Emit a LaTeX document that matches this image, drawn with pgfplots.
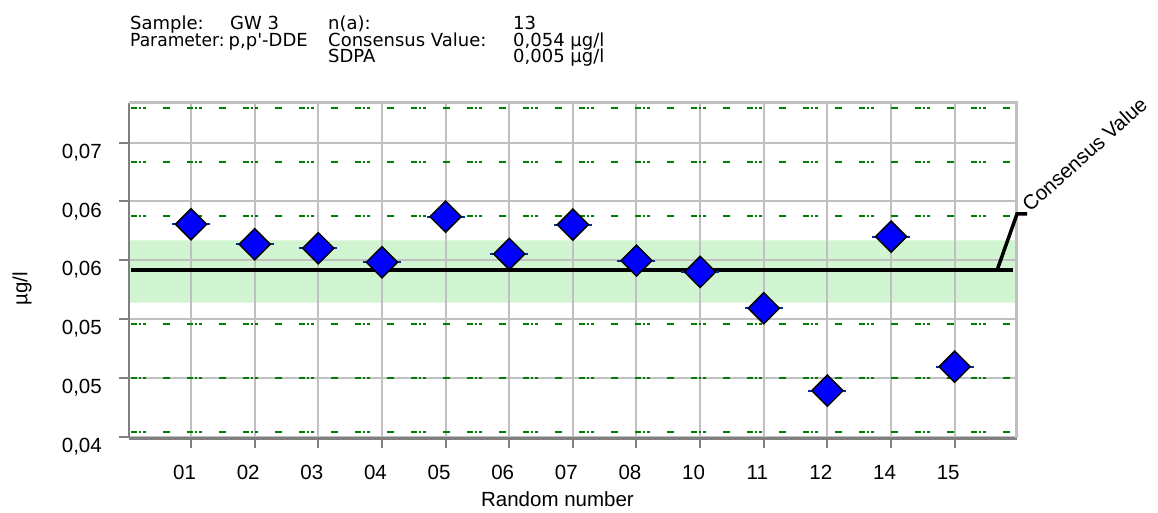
\documentclass[border=0pt]{standalone}
\usepackage{fontspec}
\setmainfont{Liberation Sans}
\newfontfamily\headfont{DejaVu Sans}[Ligatures=TeXOff]
\usepackage{pgfplots}
\pgfplotsset{compat=1.18}
\definecolor{gridgray}{RGB}{192,192,192}
\definecolor{axgray}{RGB}{128,128,128}
\definecolor{bandgreen}{RGB}{208,245,208}
\definecolor{lgreen}{RGB}{0,128,0}
\definecolor{pblue}{RGB}{0,0,255}
\definecolor{navy}{RGB}{0,51,153}
\pgfplotstableread{
x y
1 0.05806
2 0.05636
3 0.05602
4 0.05483
5 0.05871
6 0.05554
7 0.05803
8 0.05497
9 0.05401
10 0.05092
11 0.04391
12 0.05701
13 0.04595
}\results
\tikzset{gdash/.style={lgreen, line width=2pt, dash pattern=on 6pt off 2pt on 2pt off 2pt on 3pt off 16.7pt on 7.3pt off 17pt, dash phase=54pt}}
\newcommand\bigfnt{\fontsize{20.5pt}{24pt}\selectfont}
\newcommand\hd{\headfont\fontsize{18pt}{21pt}\selectfont}
\begin{document}
\begin{tikzpicture}
\node[anchor=base west, inner sep=0pt, font=\hd] at (130pt,482pt) {Sample:};
\node[anchor=base west, inner sep=0pt, font=\hd] at (230pt,482pt) {GW 3};
\node[anchor=base west, inner sep=0pt, font=\hd] at (328pt,482pt) {n(a):};
\node[anchor=base west, inner sep=0pt, font=\hd] at (513pt,482pt) {13};
\node[anchor=base west, inner sep=0pt, font=\hd] at (130pt,465.3pt) {\scalebox{0.95}[1]{Parameter:}};
\node[anchor=base west, inner sep=0pt, font=\hd] at (228.5pt,465.3pt) {p,p'-DDE};
\node[anchor=base west, inner sep=0pt, font=\hd] at (328pt,465.3pt) {Consensus Value:};
\node[anchor=base west, inner sep=0pt, font=\hd] at (513pt,465.3pt) {0,054 µg/l};
\node[anchor=base west, inner sep=0pt, font=\hd] at (328pt,449pt) {SDPA};
\node[anchor=base west, inner sep=0pt, font=\hd] at (513pt,449pt) {0,005 µg/l};
\begin{axis}[
  set layers,
  scale only axis,
  width=887.7pt, height=335.6pt,
  at={(129pt,73.7pt)}, anchor=south west,
  xmin=0.025, xmax=13.975,
  ymin=0.03986, ymax=0.0684,
  clip=false,
  axis lines=left,
  axis line style={-, axgray, line width=2.5pt},
  tick align=outside,
  major tick length=10pt,
  tick style={axgray, line width=2pt},
  grid=major,
  grid style={gridgray, line width=2pt},
  xtick={1,...,13},
  xticklabels={01,02,03,04,05,06,07,08,10,11,12,14,15},
  ytick={0.040,0.045,0.050,0.055,0.060,0.065},
  yticklabels={{0,04},{0,05},{0,05},{0,06},{0,06},{0,07}},
  scaled y ticks=false,
  tick label style={font=\bigfnt},
  yticklabel style={anchor=base east, inner sep=0pt, yshift=-15.6pt, xshift=-17pt},
  xticklabel style={anchor=base, inner sep=0pt, xshift=-6.5pt, yshift=-31pt},
  xlabel={Random number},
  ylabel={µg/l},
  label style={font=\bigfnt},
  xlabel style={at={(axis description cs:0.4827,-0.2038)}, anchor=base, inner sep=0pt},
  ylabel style={at={(axis description cs:-0.1205,0.445)}, anchor=center, inner sep=0pt},
]
\addplot[draw=none, fill=bandgreen, on layer=axis background] coordinates {(0.025,0.0514) (13.975,0.0514) (13.975,0.0567) (0.025,0.0567) (0.025,0.0514)};
\draw[gridgray, line width=2.5pt] (rel axis cs:0,1) -- (rel axis cs:1,1) -- (rel axis cs:1,0);
\addplot[gdash] coordinates {(0.025,0.06791) (13.975,0.06791)};
\addplot[gdash] coordinates {(0.025,0.06332) (13.975,0.06332)};
\addplot[gdash] coordinates {(0.025,0.05873) (13.975,0.05873)};
\addplot[gdash] coordinates {(0.025,0.04955) (13.975,0.04955)};
\addplot[gdash] coordinates {(0.025,0.04496) (13.975,0.04496)};
\addplot[gdash] coordinates {(0.025,0.04037) (13.975,0.04037)};
\addplot[black, line width=4.3pt] coordinates {(0.0564,0.05415) (13.912,0.05415)};
\addplot[black, line width=3.5pt] coordinates {(13.666,0.05415) (13.98,0.05894) (14.137,0.05894)};
\node[rotate=42, anchor=base west, inner sep=0pt, font=\bigfnt] at (axis cs:14.185,0.05902) {Consensus Value};
\addplot[only marks, mark=-, mark size=19pt, mark options={navy, line width=2pt}] table[x=x,y=y] {\results};
\addplot[only marks, mark=square*, mark size=11pt, mark options={rotate=45, fill=pblue, draw=black, line width=1.5pt}] table[x=x,y=y] {\results};
\end{axis}
\pgfresetboundingbox
\path[use as bounding box] (0,0) rectangle (1158pt,512pt);
\end{tikzpicture}
\end{document}
